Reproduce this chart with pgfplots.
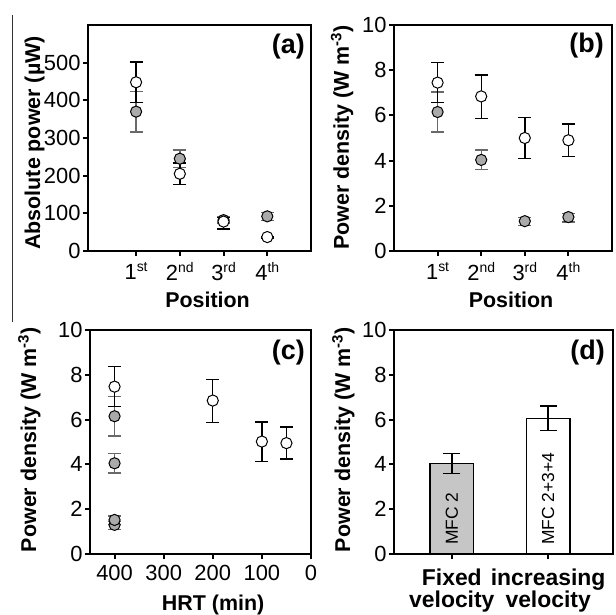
\documentclass[border=0pt]{standalone}
\usepackage{fontspec}
\setmainfont{Liberation Sans}
\usepackage{pgfplots}
\pgfplotsset{compat=1.18}
\usepackage{pgfplotstable}

\definecolor{mk}{RGB}{170,170,170}
\definecolor{barg}{RGB}{198,198,198}
\definecolor{eg}{RGB}{105,105,105}

\newcommand{\sps}[1]{\raisebox{7.5bp}{\fontsize{14}{14}\selectfont #1}}

\pgfplotstableread{
x y ep em
1 370 53 54
2 245 23 23
3 82 8 8
4 92 11 11
}\Agrey
\pgfplotstableread{
x y ep em
1 448 54 53
2 205 29 29
3 78 11 20
4 37 2 2
}\Awhite
\pgfplotstableread{
x y ep em
1 6.15 0.89 0.89
2 4.03 0.43 0.43
3 1.32 0.16 0.20
4 1.50 0.17 0.21
}\Bgrey
\pgfplotstableread{
x y ep em
1 7.45 0.89 0.89
2 6.84 0.94 0.99
3 5.00 0.90 0.90
4 4.90 0.72 0.71
}\Bwhite
\pgfplotstableread{
x y ep em
400 6.15 0.89 0.89
400 4.05 0.43 0.43
400 1.30 0.16 0.20
400 1.52 0.17 0.21
}\Cgrey
\pgfplotstableread{
x y ep em
400 7.47 0.89 0.89
200 6.85 0.94 0.99
100 5.02 0.88 0.90
50 4.95 0.72 0.71
}\Cwhite

\tikzset{plab/.style={anchor=north east, inner sep=0, font=\bfseries\fontsize{27}{27}\selectfont}}

\pgfplotsset{
  panel/.style={
    scale only axis,
    axis line style={line width=2.2bp},
    tick style={line width=2bp, black},
    major tick length=5bp,
    tick align=outside,
    tick pos=left,
    /pgf/number format/assume math mode=true,
    tick label style={font=\fontsize{22}{22}\selectfont},
    xticklabel style={yshift=-3bp},
    yticklabel style={xshift=1bp},
    label style={font=\bfseries\fontsize{21.5}{24}\selectfont},
    ylabel style={anchor=base, inner sep=0},
    clip=false,
  },
  greyser/.style={
    only marks, mark=*, mark size=5.6bp,
    mark options={fill=mk, draw=black, line width=1bp},
    error bars/y dir=both, error bars/y explicit,
    error bars/error bar style={line width=1.4bp, eg},
    error bars/error mark options={rotate=90, mark size=6.5bp, line width=1.4bp, draw=eg},
  },
  whiteser/.style={
    only marks, mark=*, mark size=5.6bp,
    mark options={fill=white, draw=black, line width=1bp},
    error bars/y dir=both, error bars/y explicit,
    error bars/error bar style={line width=1.4bp, black},
    error bars/error mark options={rotate=90, mark size=6.5bp, line width=1.4bp, draw=black},
  },
}

\begin{document}
\begin{tikzpicture}
\useasboundingbox (0,0) rectangle (616bp,615bp);
\draw[line width=1bp, black!80] (12bp,600bp) -- (12bp,293bp);

% (a)
\begin{axis}[panel,
  at={(88bp,364bp)}, anchor=south west,
  width=223bp, height=226bp,
  xmin=-0.1, xmax=5, ymin=0, ymax=600,
  xtick={1,2,3,4},
  xticklabels={1\sps{st},2\sps{nd},3\sps{rd},4\sps{th}},
  ytick={0,100,200,300,400,500},
  ylabel={Absolute power (\textmu W)},
  ylabel style={at={(axis description cs:-0.215,0.478)}},
  xlabel={Position},
  xlabel style={at={(axis description cs:0.536,-0.252)}, anchor=base},
]
\addplot[greyser] table[x=x, y=y, y error plus=ep, y error minus=em]{\Agrey};
\addplot[whiteser] table[x=x, y=y, y error plus=ep, y error minus=em]{\Awhite};
\node[plab] at ([xshift=-6bp,yshift=-9bp]rel axis cs:1,1) {(a)};
\end{axis}

% (b)
\begin{axis}[panel,
  at={(394bp,364bp)}, anchor=south west,
  width=218bp, height=226bp,
  xmin=0, xmax=5, ymin=0, ymax=10,
  xtick={1,2,3,4},
  xticklabels={1\sps{st},2\sps{nd},3\sps{rd},4\sps{th}},
  ytick={0,2,4,6,8,10},
  ylabel={Power density (W m\textsuperscript{-3})},
  ylabel style={at={(axis description cs:-0.207,0.502)}},
  xlabel={Position},
  xlabel style={at={(axis description cs:0.537,-0.252)}, anchor=base},
]
\addplot[greyser] table[x=x, y=y, y error plus=ep, y error minus=em]{\Bgrey};
\addplot[whiteser] table[x=x, y=y, y error plus=ep, y error minus=em]{\Bwhite};
\node[plab] at ([xshift=-8bp,yshift=-8bp]rel axis cs:1,1) {(b)};
\end{axis}

% (c)
\begin{axis}[panel,
  at={(90bp,61bp)}, anchor=south west,
  width=221bp, height=224bp,
  x dir=reverse,
  xmin=0, xmax=450, ymin=0, ymax=10,
  xtick={0,100,200,300,400},
  ytick={0,2,4,6,8,10},
  ylabel={Power density (W m\textsuperscript{-3})},
  ylabel style={at={(axis description cs:-0.244,0.51)}},
  xlabel={HRT (min)},
  xlabel style={at={(axis description cs:0.557,-0.254)}, anchor=base},
]
\addplot[greyser] table[x=x, y=y, y error plus=ep, y error minus=em]{\Cgrey};
\addplot[whiteser] table[x=x, y=y, y error plus=ep, y error minus=em]{\Cwhite};
\node[plab] at ([xshift=-6bp,yshift=-10bp]rel axis cs:1,1) {(c)};
\end{axis}

% (d)
\begin{axis}[panel,
  at={(394bp,61bp)}, anchor=south west,
  width=219bp, height=224bp,
  xmin=0, xmax=5, ymin=0, ymax=10,
  xtick={1.32,3.52},
  xticklabels={{Fixed\\velocity},{increasing\\velocity}},
  xticklabel style={font=\bfseries\fontsize{23}{22.5}\selectfont, align=center, yshift=-3bp},
  ytick={0,2,4,6,8,10},
  ylabel={Power density (W m\textsuperscript{-3})},
  ylabel style={at={(axis description cs:-0.2,0.51)}},
]
\addplot[ybar, bar shift=0pt, bar width=1, fill=barg, draw=black, line width=1.2bp,
  error bars/y dir=both, error bars/y explicit,
  error bars/error bar style={line width=1.4bp, black},
  error bars/error mark options={rotate=90, mark size=8.5bp, line width=1.4bp, draw=black}]
  coordinates {(1.32,4.04) +- (0.45,0.45)};
\addplot[ybar, bar shift=0pt, bar width=1, fill=white, draw=black, line width=1.2bp,
  error bars/y dir=both, error bars/y explicit,
  error bars/error bar style={line width=1.4bp, black},
  error bars/error mark options={rotate=90, mark size=8.5bp, line width=1.4bp, draw=black}]
  coordinates {(3.52,6.06) +- (0.55,0.55)};
\node[rotate=90, anchor=west, inner sep=0, font=\fontsize{17.5}{17.5}\selectfont] at ([yshift=9bp]axis cs:1.32,0) {MFC 2};
\node[rotate=90, anchor=west, inner sep=0, font=\fontsize{17.5}{17.5}\selectfont] at ([yshift=9bp]axis cs:3.52,0) {MFC 2+3+4};
\node[plab] at ([xshift=-8bp,yshift=-10bp]rel axis cs:1,1) {(d)};
\end{axis}
\end{tikzpicture}
\end{document}
